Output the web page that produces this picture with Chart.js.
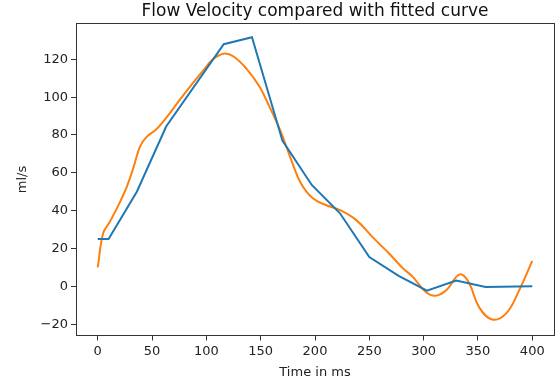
<!DOCTYPE html>
<html lang="en">
<head>
  <meta charset="UTF-8">
  <title>Flow Velocity compared with fitted curve</title>
  <script src="https://cdn.jsdelivr.net/npm/chart.js"></script>
  <style>
    html, body { margin: 0; padding: 0; background: #fff; }
    #wrap { width: 558px; height: 385px; }
  </style>
</head>
<body>
  <div id="wrap"><canvas id="grafico" width="558" height="385"></canvas></div>

  <script>
    // measured flow (blue)
    const flowTime = [0, 10, 36, 63, 116, 142, 170, 197, 223, 250, 277, 303, 330, 357, 400];
    const flowVel  = [25, 25, 50, 84.5, 128, 131.7, 77, 53.6, 38.6, 15.5, 5.5, -2.3, 3, -0.3, 0];

    // fitted curve (orange)
    const fitTime = [0, 5, 11, 20, 27, 33, 39, 45, 54, 63, 76, 87, 97, 106, 116, 125, 137, 149, 158, 168,
                     178, 187, 198, 210, 223, 238, 253, 268, 281, 290, 302, 311, 321, 330, 335, 342, 351, 363, 376, 388, 400];
    const fitVel  = [10, 28, 34, 44, 53, 63, 74, 79, 83, 89, 99, 107, 114, 120, 123, 121.5, 115, 105.5, 95, 82.5,
                     67, 54.5, 46.5, 43, 40.3, 35, 26, 17.5, 9.5, 5, -3, -5, -2, 5, 6.3, 1.6, -11, -17.5, -14.3, -2, 13.5];

    const xTicks = [0, 50, 100, 150, 200, 250, 300, 350, 400];
    const yTicks = [-20, 0, 20, 40, 60, 80, 100, 120];

    const toPoints = (xs, ys) => xs.map((x, i) => ({ x: x, y: ys[i] }));
    const minus = v => String(v).replace('-', '\u2212');

    // frame around the plot, like matplotlib spines
    const frame = {
      id: 'frame',
      afterDatasetsDraw(chart) {
        const a = chart.chartArea;
        const c = chart.ctx;
        c.save();
        c.strokeStyle = '#333';
        c.lineWidth = 1;
        c.strokeRect(Math.round(a.left) + 0.5, Math.round(a.top) + 0.5,
                     Math.round(a.right - a.left), Math.round(a.bottom - a.top));
        c.restore();
      }
    };

    const tickFont = { family: 'DejaVu Sans', size: 13 };

    const ctx = document.getElementById('grafico').getContext('2d');
    new Chart(ctx, {
      type: 'line',
      data: {
        datasets: [
          {
            label: 'flow',
            data: toPoints(flowTime, flowVel),
            borderColor: '#1f77b4',
            borderWidth: 2,
            pointRadius: 0,
            tension: 0,
            fill: false
          },
          {
            label: 'fit',
            data: toPoints(fitTime, fitVel),
            borderColor: '#ff7f0e',
            borderWidth: 2,
            pointRadius: 0,
            tension: 0.4,
            fill: false
          }
        ]
      },
      options: {
        responsive: false,
        animation: false,
        layout: { padding: { left: 0, right: 4, top: 0, bottom: 0 } },
        plugins: {
          legend: { display: false },
          tooltip: { enabled: false },
          title: {
            display: true,
            fullSize: false,
            text: 'Flow Velocity compared with fitted curve',
            color: '#111',
            font: { family: 'DejaVu Sans', size: 17, weight: 'normal', lineHeight: 1.2 },
            padding: { top: 1, bottom: 2 }
          }
        },
        scales: {
          x: {
            type: 'linear',
            min: -20,
            max: 420,
            afterBuildTicks: s => { s.ticks = xTicks.map(v => ({ value: v })); },
            afterFit: s => { s.height = 49.5; },
            grid: { display: true, drawOnChartArea: false, drawTicks: true, tickLength: 5, color: '#333' },
            border: { display: false },
            ticks: { color: '#222', font: tickFont, padding: 3, maxRotation: 0, callback: minus },
            title: { display: true, text: 'Time in ms', color: '#222', font: tickFont, padding: { top: 0, bottom: 5 } }
          },
          y: {
            type: 'linear',
            min: -26,
            max: 139,
            afterBuildTicks: s => { s.ticks = yTicks.map(v => ({ value: v })); },
            afterFit: s => { s.width = 76; },
            grid: { display: true, drawOnChartArea: false, drawTicks: true, tickLength: 5, color: '#333' },
            border: { display: false },
            ticks: { color: '#222', font: tickFont, padding: 3, callback: minus },
            title: { display: true, text: 'ml/s', color: '#222', font: tickFont, padding: { top: 15, bottom: 0 } }
          }
        }
      },
      plugins: [frame]
    });
  </script>
</body>
</html>
